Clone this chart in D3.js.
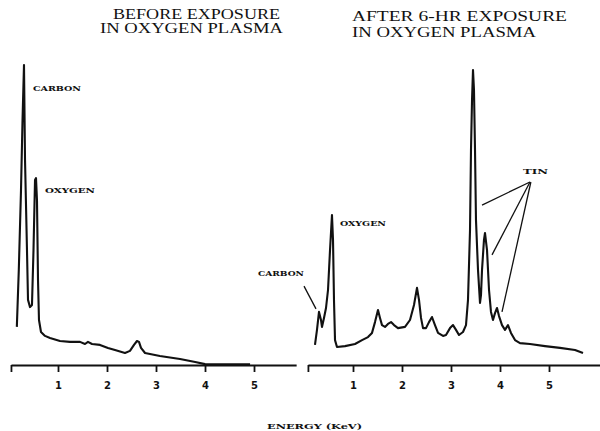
<!DOCTYPE html>
<html>
<head>
<meta charset="utf-8">
<script src="https://cdn.jsdelivr.net/npm/d3@7"></script>
<style>
  body { margin: 0; background: #fff; }
  .axis path, .axis line { stroke: #111; stroke-width: 1.8; }
  .axis text { font-family: "DejaVu Sans", sans-serif; font-weight: bold; font-size: 10px; fill: #111; }
</style>
</head>
<body>
<div id="graph"></div>
<script>
// spectra: energy (keV) and counts (arbitrary, 0-100)
var beforeEnergy = [0.16, 0.20, 0.245, 0.276, 0.306, 0.327, 0.367, 0.388, 0.429, 0.469, 0.50, 0.531, 0.551, 0.571, 0.592, 0.612,
  0.653, 0.735, 0.837, 1.04, 1.245, 1.449, 1.551, 1.612, 1.694, 1.857, 2.02, 2.163, 2.367, 2.469, 2.551, 2.612, 2.653, 2.694,
  2.776, 3.08, 3.49, 3.80, 4.00, 4.92];
var beforeCounts = [12.7, 31.7, 58.3, 81.7, 100, 68.3, 38.3, 21.7, 19.3, 20, 38.3, 61.7, 62.3, 55, 28.3, 15,
  11, 9.7, 9, 8, 7.7, 7.7, 7, 7.7, 7, 6.7, 5.7, 5, 4, 4.7, 6.7, 8, 7.7, 5.7,
  4, 3, 2, 1, 0.3, 0.2];

var afterEnergy = [0.224, 0.265, 0.306, 0.347, 0.367, 0.408, 0.449, 0.49, 0.531, 0.571, 0.592, 0.612, 0.633, 0.673, 0.837,
  1.041, 1.184, 1.306, 1.388, 1.449, 1.51, 1.551, 1.592, 1.653, 1.714, 1.776, 1.837, 1.918, 2.061, 2.163, 2.245, 2.306,
  2.347, 2.388, 2.429, 2.49, 2.551, 2.612, 2.673, 2.735, 2.837, 2.898, 2.98, 3.041, 3.102, 3.163, 3.245, 3.306, 3.347,
  3.388, 3.408, 3.429, 3.449, 3.469, 3.49, 3.51, 3.551, 3.592, 3.612, 3.633, 3.673, 3.694, 3.735, 3.776, 3.816, 3.857,
  3.898, 3.939, 3.98, 4.041, 4.102, 4.163, 4.224, 4.306, 4.408, 4.612, 4.918, 5.224, 5.531, 5.694];
var afterCounts = [6.7, 11.7, 17.7, 15, 12.7, 15.7, 19, 25, 38.3, 50, 41.7, 21.7, 8.3, 6, 6.3,
  7, 8.3, 9.3, 10.7, 14.3, 18.3, 15.7, 13.3, 12.7, 13.7, 14.3, 13.3, 12.3, 12.7, 15, 20, 25.7,
  21.7, 15.7, 12.3, 12.3, 14.3, 16, 13.3, 10.7, 9.7, 10, 12.3, 13.3, 11.7, 10, 11, 13.3, 21.7,
  45, 71.7, 88.3, 98.3, 91.7, 71.7, 48.3, 31.7, 20.7, 23.3, 31.7, 41.7, 44, 38.3, 25, 17.7, 15,
  17.3, 19, 16.3, 13.3, 11.7, 13.3, 10.7, 8.3, 7.3, 7, 6.3, 5.7, 5, 4];

var tickValues = [1, 2, 3, 4, 5];
var beforeTitle = ["BEFORE EXPOSURE", "IN OXYGEN PLASMA"];
var afterTitle = ["AFTER 6-HR EXPOSURE", "IN OXYGEN PLASMA"];
var xLabel = "ENERGY (KeV)";

var width = 600, height = 431;
var baseY = 365;

var svg = d3.select("#graph").append("svg")
  .attr("width", width).attr("height", height);

var y = d3.scaleLinear().domain([0, 100]).range([baseY, 65]);

function panel(x, energy, counts, axisFrom, axisTo) {
  var pts = energy.map(function(e, i) { return [e, counts[i]]; });
  var line = d3.line()
    .x(function(d) { return x(d[0]); })
    .y(function(d) { return y(d[1]); });

  svg.append("path")
    .datum(pts)
    .attr("d", line)
    .attr("fill", "none")
    .attr("stroke", "#111")
    .attr("stroke-width", 2.1)
    .attr("stroke-linejoin", "round");

  var ax = x.copy().domain([axisFrom, axisTo]).range([x(axisFrom), x(axisTo)]);
  svg.append("g")
    .attr("class", "axis")
    .attr("transform", "translate(0," + baseY + ")")
    .call(d3.axisBottom(ax)
      .tickValues([axisFrom].concat(tickValues))
      .tickFormat(function(d) { return d === axisFrom ? "" : d; })
      .tickSize(7)
      .tickSizeOuter(0)
      .tickPadding(10));
}

var xBefore = d3.scaleLinear().domain([0, 6]).range([9, 303]);
var xAfter = d3.scaleLinear().domain([0, 6]).range([304, 598]);

panel(xBefore, beforeEnergy, beforeCounts, 0.04, 5.86);
panel(xAfter, afterEnergy, afterCounts, 0.08, 6.05);

// titles
function title(lines, x0, w, base) {
  lines.forEach(function(t, i) {
    svg.append("text")
      .attr("x", x0[i]).attr("y", base[i])
      .attr("textLength", w[i]).attr("lengthAdjust", "spacingAndGlyphs")
      .style("font-family", "'Liberation Serif', serif")
      .style("font-size", "14px")
      .style("fill", "#111")
      .text(t);
  });
}
title(beforeTitle, [113, 100], [167, 183], [19, 33]);
title(afterTitle, [352, 352], [215, 184], [21, 37]);

// peak labels
function label(x, e, v, t, w, anchor) {
  svg.append("text")
    .attr("x", x(e)).attr("y", y(v))
    .attr("text-anchor", anchor || "start")
    .attr("textLength", w).attr("lengthAdjust", "spacingAndGlyphs")
    .style("font-family", "'DejaVu Serif', serif")
    .style("font-weight", "bold")
    .style("font-size", "8px")
    .style("fill", "#111")
    .text(t);
}
label(xBefore, 0.49, 91.3, "CARBON", 48);
label(xBefore, 0.735, 57.3, "OXYGEN", 50);
label(xAfter, 0.735, 46.3, "OXYGEN", 46);
label(xAfter, -0.94, 29.7, "CARBON", 46);
label(xAfter, 4.47, 63.7, "TIN", 25);

function pointer(x, e0, v0, e1, v1) {
  svg.append("line")
    .attr("x1", x(e0)).attr("y1", y(v0))
    .attr("x2", x(e1)).attr("y2", y(v1))
    .attr("stroke", "#111").attr("stroke-width", 1.3);
}
pointer(xAfter, 0.0, 26.3, 0.245, 18.7);
pointer(xAfter, 4.612, 61, 3.633, 53.3);
pointer(xAfter, 4.612, 61, 3.837, 36.7);
pointer(xAfter, 4.63, 61, 4.041, 17.7);

svg.append("text")
  .attr("x", 267).attr("y", 429)
  .attr("textLength", 95).attr("lengthAdjust", "spacingAndGlyphs")
  .style("font-family", "'DejaVu Serif', serif")
  .style("font-weight", "bold")
  .style("font-size", "8px")
  .style("fill", "#111")
  .text(xLabel);
</script>
</body>
</html>
